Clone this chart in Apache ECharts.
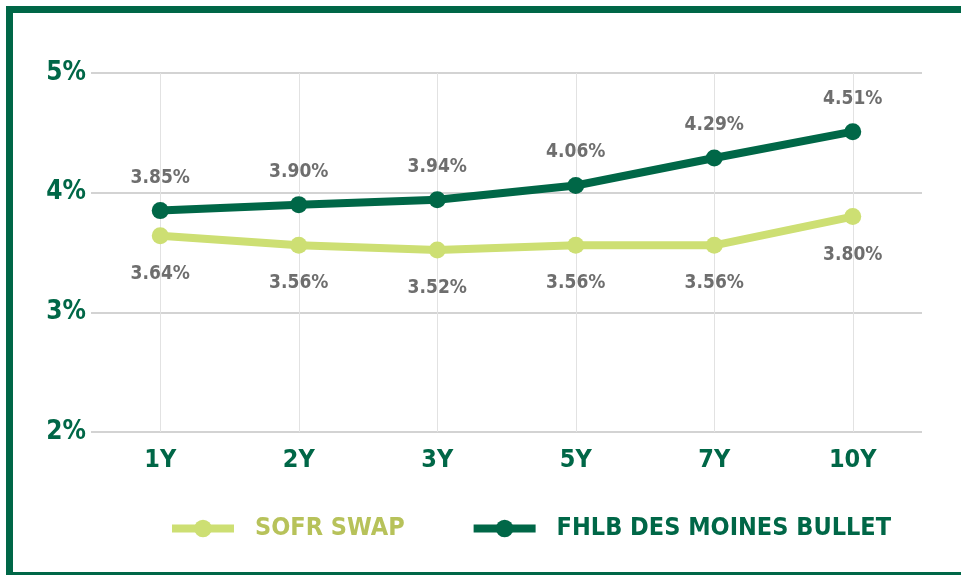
<!DOCTYPE html>
<html>
<head>
<meta charset="utf-8">
<script src="https://cdn.jsdelivr.net/npm/echarts@6/dist/echarts.min.js"></script>
<style>
    html, body { margin: 0; padding: 0; background: #fff; overflow: hidden; }
    #frame {
        position: absolute; left: 6px; top: 6px;
        width: 1000px; height: 559px;
        border-left: 7px solid #006747;
        border-top: 7px solid #006747;
        border-bottom: 7px solid #006747;
    }
    #main { position: absolute; left: 0; top: 0; width: 961px; height: 575px; }
</style>
</head>
<body>
<div id="frame"></div>
<div id="main"></div>
<script>
var terms = ['1Y', '2Y', '3Y', '5Y', '7Y', '10Y'];
var sofrSwap = [3.64, 3.56, 3.52, 3.56, 3.56, 3.80];
var fhlbBullet = [3.85, 3.90, 3.94, 4.06, 4.29, 4.51];
var yTicks = [2, 3, 4, 5];

var darkGreen = '#006747',
    lightGreen = '#cddf73',
    labelGray = '#6e6e6e',
    font = '"Liberation Sans Narrow", "DejaVu Sans Condensed", sans-serif';

var myChart = echarts.init(document.getElementById('main'));

var makeSeries = function (name, data, color, pos, dist) {
    return {
        name: name,
        type: 'line',
        data: data,
        symbol: 'circle',
        symbolSize: 17,
        lineStyle: { color: color, width: 8 },
        itemStyle: { color: color },
        label: {
            show: true,
            position: pos,
            distance: dist,
            formatter: function (p) {
                return p.value.toFixed(2) + '%';
            },
            color: labelGray,
            fontFamily: font,
            fontWeight: 'bold',
            fontSize: 19
        },
        emphasis: { disabled: true }
    };
};

myChart.setOption({
    animation: false,
    grid: { left: 91, right: 39, top: 73, bottom: 143 },
    legend: {
        left: 168,
        top: 516,
        padding: 0,
        width: 780,
        itemWidth: 62,
        itemHeight: 22,
        itemGap: 65,
        lineStyle: { width: 8 },
        data: [
            { name: 'SOFR SWAP', textStyle: { color: '#b7c25a' } },
            { name: 'FHLB DES MOINES BULLET', textStyle: { color: darkGreen } }
        ],
        textStyle: {
            fontFamily: font,
            fontWeight: 'bold',
            fontSize: 25,
            padding: [0, 0, 0, 16]
        },
        selectedMode: false
    },
    xAxis: {
        type: 'category',
        data: terms,
        boundaryGap: true,
        axisLine: { show: false },
        axisTick: { show: false },
        axisLabel: {
            color: darkGreen,
            fontFamily: font,
            fontWeight: 'bold',
            fontSize: 25,
            margin: 16
        },
        splitLine: {
            show: true,
            alignWithLabel: true,
            lineStyle: { color: '#e2e2e2', width: 1 }
        }
    },
    yAxis: {
        type: 'value',
        min: yTicks[0],
        max: yTicks[yTicks.length - 1],
        interval: 1,
        axisLine: { show: false },
        axisTick: { show: false },
        axisLabel: {
            color: darkGreen,
            fontFamily: font,
            fontWeight: 'bold',
            fontSize: 26,
            margin: 5,
            formatter: '{value}%'
        },
        splitLine: { lineStyle: { color: '#c4c4c4', width: 1.5 } }
    },
    series: [
        makeSeries('SOFR SWAP', sofrSwap, lightGreen, 'bottom', 20),
        makeSeries('FHLB DES MOINES BULLET', fhlbBullet, darkGreen, 'top', 15)
    ]
});
</script>
</body>
</html>
